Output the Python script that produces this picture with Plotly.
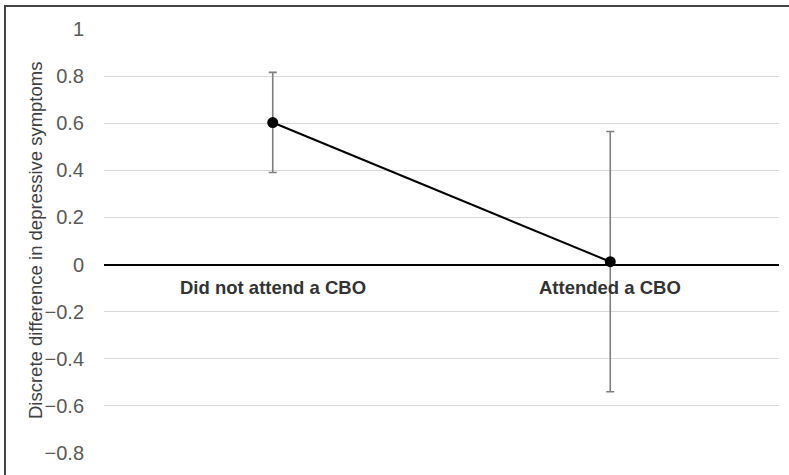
import plotly.graph_objects as go

categories = ["Did not attend a CBO", "Attended a CBO"]
values = [0.603, 0.012]
upper = [0.816, 0.565]
lower = [0.391, -0.540]
y_ticks = [-0.8, -0.6, -0.4, -0.2, 0, 0.2, 0.4, 0.6, 0.8, 1]
y_title = "Discrete difference in depressive symptoms"

err_plus = [u - v for u, v in zip(upper, values)]
err_minus = [v - l for v, l in zip(values, lower)]
xpos = list(range(len(categories)))

fig = go.Figure()
fig.add_trace(go.Scatter(
    x=xpos, y=values, mode="lines+markers",
    line=dict(color="black", width=2),
    marker=dict(color="black", size=11),
    error_y=dict(type="data", symmetric=False, array=err_plus, arrayminus=err_minus,
                 color="#7f7f7f", thickness=1.6, width=4),
    showlegend=False, hoverinfo="skip",
))

for i, c in enumerate(categories):
    fig.add_annotation(x=i, y=0, xref="x", yref="y", text="<b>" + c + "</b>",
                       showarrow=False, yanchor="top", yshift=-10,
                       font=dict(family="Liberation Sans, Arial", size=18.5, color="#333333"))

fig.add_annotation(x=-0.1022, y=0.5, xref="paper", yref="paper", text=y_title,
                   textangle=-90, showarrow=False, xanchor="center", yanchor="middle",
                   font=dict(family="Liberation Sans, Arial", size=18.5, color="#404040"))

# outer frame (top and left edges visible)
fig.add_shape(type="rect", xref="paper", yref="paper",
              x0=-0.1467, x1=1.2, y0=-0.2, y1=1.0542,
              line=dict(color="#444444", width=2), layer="above")

fig.update_xaxes(range=[-0.5, 1.5], showgrid=False, zeroline=False, showline=False,
                 showticklabels=False, fixedrange=True)
fig.update_yaxes(range=[-0.8, 1.0], tickvals=y_ticks,
                 ticktext=[("%g" % v).replace("-", "\u2212") if v != 0 else "0" for v in y_ticks],
                 showgrid=True, gridcolor="#d9d9d9", gridwidth=1,
                 zeroline=True, zerolinecolor="black", zerolinewidth=2,
                 showline=False, ticklabelstandoff=19,
                 tickfont=dict(family="Liberation Sans, Arial", size=20, color="#595959"))

fig.update_layout(width=789, height=475,
                  margin=dict(l=104, r=10, t=29, b=22),
                  plot_bgcolor="white", paper_bgcolor="white")

fig.write_html("out.html", config={"displayModeBar": False},
               post_script="document.body.style.margin='0';document.body.style.overflow='hidden';")
